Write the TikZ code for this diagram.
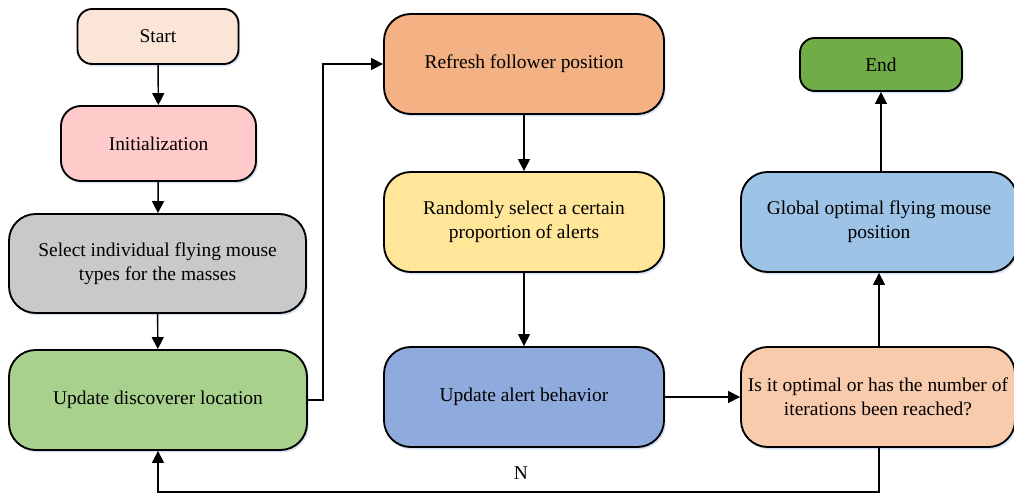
\documentclass[tikz,border=0pt]{standalone}
\usepackage{fontspec}
\setmainfont{Liberation Serif}
\usetikzlibrary{arrows.meta,shadows}
\definecolor{cStart}{HTML}{FBE5D6}
\definecolor{cInit}{HTML}{FFCACA}
\definecolor{cSel}{HTML}{C9C9C9}
\definecolor{cDisc}{HTML}{A9D18E}
\definecolor{cRef}{HTML}{F4B183}
\definecolor{cRand}{HTML}{FFE699}
\definecolor{cAlert}{HTML}{8FAADC}
\definecolor{cOpt}{HTML}{F8CBAD}
\definecolor{cGlob}{HTML}{9DC3E6}
\definecolor{cEnd}{HTML}{70AD47}
\definecolor{cShadow}{HTML}{D6E4F5}
\tikzset{
  bx/.style 2 args={draw=black, line width=1.4pt, rectangle, rounded corners=15pt,
    minimum width=#1*0.75pt, minimum height=#2*0.75pt, inner sep=0pt, align=center,
    font=\fontsize{14.6}{18}\selectfont,
    drop shadow={shadow xshift=1.3pt, shadow yshift=-1.8pt, fill=cShadow, opacity=1, draw=none}},
  arr/.style={draw=black, line width=1.1pt, -{Triangle[length=9pt,width=9pt]}},
  ln/.style={draw=black, line width=1.1pt}
}
\begin{document}
\begin{tikzpicture}[x=0.75pt,y=-0.75pt]
\useasboundingbox (0,0) rectangle (1014,493);
\node[bx={161}{55}, fill=cStart, rounded corners=11pt] (start) at (158,36.5) {Start};
\node[bx={195}{75}, fill=cInit] (init) at (158.5,143.5) {Initialization};
\node[bx={297}{99}, fill=cSel, rounded corners=20pt] (sel) at (157.5,263.5) {Select individual flying mouse\\types for the masses};
\node[bx={298}{100}, fill=cDisc, rounded corners=20pt] (disc) at (158,400) {Update discoverer location};
\node[bx={280}{100}, fill=cRef, rounded corners=20pt] (ref) at (524,64) {Refresh follower position};
\node[bx={280}{100}, fill=cRand, rounded corners=20pt] (rand) at (524,222) {Randomly select a certain\\proportion of alerts};
\node[bx={280}{100}, fill=cAlert, rounded corners=20pt] (alert) at (524,397) {Update alert behavior};
\node[bx={274}{100}, fill=cOpt, rounded corners=20pt] (opt) at (878,397) {Is it optimal or has the number of\\iterations been reached?};
\node[bx={276}{100}, fill=cGlob, rounded corners=20pt] (glob) at (879,222) {Global optimal flying mouse\\position};
\node[bx={162}{53}, fill=cEnd, rounded corners=11pt] (end) at (881,64.5) {End};
\node[font=\fontsize{14.6}{18}\selectfont, inner sep=1pt] (nlab) at (521,473) {N};

\draw[arr] (start) -- (init);
\draw[arr] (init) -- (sel);
\draw[arr] (sel) -- (disc);
\draw[arr] (disc.east) -- ++(15,0) |- (ref.west);
\draw[arr] (ref) -- (rand);
\draw[arr] (rand) -- (alert);
\draw[arr] (alert) -- (opt);
\draw[arr] (opt.north -| glob.south) -- (glob.south);
\draw[arr] (glob.north -| end.south) -- (end.south);
\draw[arr] (opt.south -| glob.south) -- ++(0,44) -| (disc.south);
\end{tikzpicture}
\end{document}
